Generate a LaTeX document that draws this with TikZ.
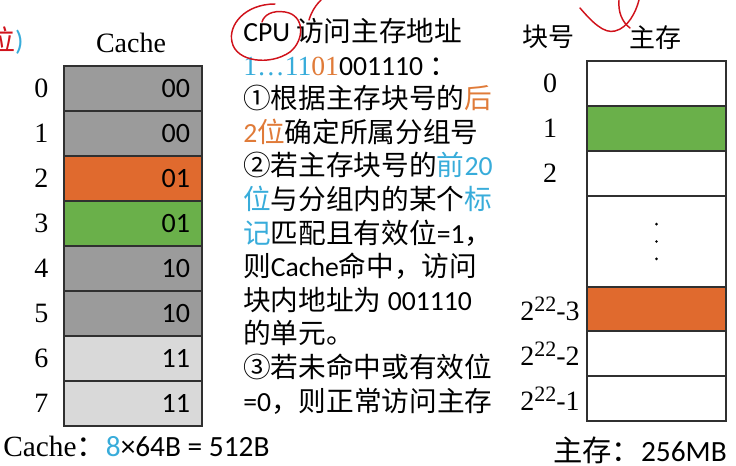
\documentclass[tikz,border=0pt]{standalone}
\usepackage{fontspec}
\setmainfont{Carlito}
\newfontfamily\cjk{Noto Sans CJK SC}
\newfontfamily\tms{Liberation Serif}
\usetikzlibrary{positioning}
\definecolor{cgray}{HTML}{9B9B9B}
\definecolor{clight}{HTML}{D9D9D9}
\definecolor{corange}{HTML}{E06A2E}
\definecolor{cgreen}{HTML}{6AB04A}
\definecolor{tcyan}{HTML}{38ACDA}
\definecolor{torange}{HTML}{E07B39}
\definecolor{ink}{HTML}{D0121B}
\definecolor{edge}{HTML}{303030}
\newcommand{\zh}[1]{{\cjk #1}}
\newcommand{\cy}[1]{{\color{tcyan}#1}}
\newcommand{\og}[1]{{\color{torange}#1}}
\newcommand{\pw}[1]{{\tms 2}\raisebox{6.5pt}{\fontsize{16.5}{16.5}\selectfont 22}{\tms -#1}}
\tikzset{cell/.style={draw=edge, line width=1pt, minimum width=103.5pt, minimum height=33.75pt,
           inner xsep=9pt, text width=85.5pt, align=right, font=\fontsize{21}{21}\selectfont},
         mcell/.style={draw=edge, line width=1pt, minimum width=104.25pt, inner sep=0pt},
         idx/.style={inner sep=0pt, font=\tms\fontsize{21}{21}\selectfont},
         head/.style={inner sep=0pt, font=\fontsize{21}{21}\selectfont},
         stroke/.style={draw=ink, line width=1.1pt, line cap=round}}

\begin{document}
\begin{tikzpicture}[x=0.75pt, y=-0.75pt]
  \useasboundingbox (0,0) rectangle (736,466);

  % Cache
  \node[head, font=\tms\fontsize{21}{21}\selectfont] (ctitle) at (131,43) {Cache};
  \foreach \i/\v/\f in {0/00/cgray, 1/00/cgray, 2/01/corange, 3/01/cgreen,
                        4/10/cgray, 5/10/cgray, 6/11/clight, 7/11/clight}{
    \node[cell, fill=\f] (c\i) at (133,{88.5+45*\i}) {\v};
    \node[idx, left=11pt of c\i.west] (ci\i) {\i};
  }
  \node[head, anchor=west, font=\fontsize{22}{22}\selectfont] (ccap) at (3,446)
    {{\tms Cache}\zh{：}\cy{8}×64B = 512B};

  % cut-off note at the left edge
  \node[head, anchor=east] (cut) at (24,41) {{\cjk\color{ink}位}\cy{)}};

  % address text
  \node[inner sep=0pt, anchor=north west, align=left,
        font=\fontsize{20.75}{25.2}\selectfont] (addr) at (243,18)
    {CPU \zh{访问主存地址}\\
     {\tms\cy{1…11}\og{01}}001110 \zh{：}\\
     \zh{①根据主存块号的\og{后}}\\
     \og{2\zh{位}}\zh{确定所属分组号}\\
     \zh{②若主存块号的\cy{前}}\cy{20}\\
     \zh{\cy{位}与分组内的某个\cy{标}}\\
     \zh{\cy{记}匹配且有效位}=1\zh{，}\\
     \zh{则}Cache\zh{命中，访问}\\
     \zh{块内地址为} 001110\\
     \zh{的单元。}\\
     \zh{③若未命中或有效位}\\
     =0\zh{，则正常访问主存}};

  % Main memory
  \node[head, font=\cjk\fontsize{19.5}{19.5}\selectfont] (bhead) at (548,37) {块号};
  \node[head, font=\cjk\fontsize{19.5}{19.5}\selectfont] (mhead) at (655,38) {主存};
  \foreach \n/\y/\h/\f in {m0/83.5/45/white, m1/128.5/45/cgreen, m2/173.5/45/white,
                           md/241.5/91/white, m3/309/44/corange, m4/353.5/45/white,
                           m5/398.5/45/white}{
    \node[mcell, minimum height=\h*0.75pt, fill=\f] (\n) at (656.5,\y) {};
  }
  \foreach \d in {-1,0,1}
    \fill ([yshift=\d*13pt]md.center) circle (1.1pt);
  \node[idx] (l0) at (550,0 |- m0) {0};
  \node[idx] (l1) at (550,0 |- m1) {1};
  \node[idx] (l2) at (550,0 |- m2) {2};
  \node[idx] (l3) at (550,0 |- m3) {\pw{3}};
  \node[idx] (l4) at (550,0 |- m4) {\pw{2}};
  \node[idx] (l5) at (550,0 |- m5) {\pw{1}};
  \node[head, anchor=east, font=\fontsize{22}{22}\selectfont] (mcap) at (727,450) {\zh{主存：}256MB};

  % red pen marks
  \draw[stroke] (275,4) .. controls (245,4) and (228,25) .. (232,42)
    .. controls (236,62) and (270,66) .. (290,52)
    .. controls (305,40) and (305,15) .. (285,12)
    .. controls (272,10) and (264,15) .. (262,22);
  \draw[stroke] (309,20) .. controls (312,10) and (317,4) .. (321,0);
  \draw[stroke] (580,8) .. controls (592,22) and (604,34) .. (615,31)
    .. controls (628,28) and (636,12) .. (639,0);
  \draw[stroke] (619,0) .. controls (618,12) and (622,22) .. (630,28);
\end{tikzpicture}
\end{document}
